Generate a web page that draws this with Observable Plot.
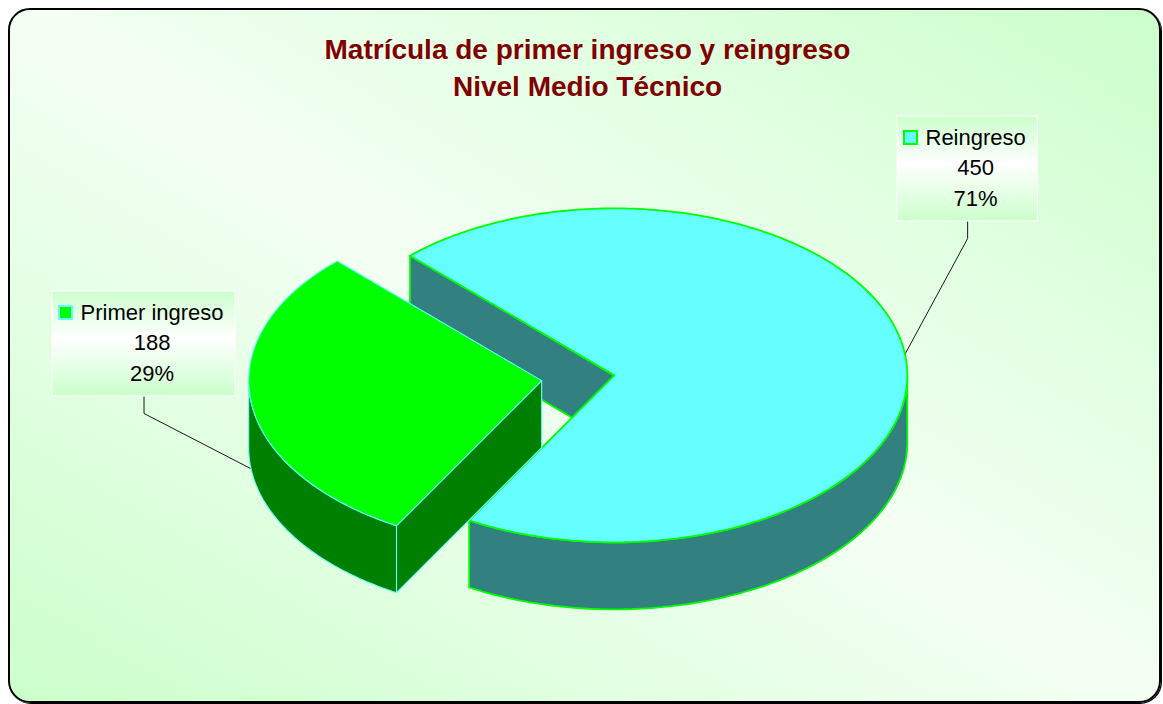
<!DOCTYPE html>
<html><head><meta charset="utf-8">
<script src="https://cdn.jsdelivr.net/npm/d3@7"></script>
<script src="https://cdn.jsdelivr.net/npm/@observablehq/plot@0.6"></script>
<style>
html,body{margin:0;padding:0;background:#fff;width:1163px;height:704px;overflow:hidden;}
#frame{position:absolute;left:8px;top:8px;width:1153px;height:695px;box-sizing:border-box;border:2px solid #000;border-radius:22px;
 background:linear-gradient(to top right,#ccffcc 0%,#f4fff4 50%,#ccffcc 100%);box-shadow:1px 1px 0 #000;}
#chart{position:absolute;left:0;top:0;}
</style></head><body>
<div id="frame"></div><div id="chart"></div>
<script>
// ---- data ----
const categories = ["Primer ingreso", "Reingreso"];
const values = [188, 450];
const titleLines = ["Matrícula de primer ingreso y reingreso", "Nivel Medio Técnico"];
const topColors = ["#00ff00", "#66ffff"];
const sideColors = ["#008000", "#338080"];
const edgeColors = ["#66ffff", "#00ff00"];

// ---- layout ----
const W = 1163, H = 704;
const L = {cx: 577.5, cy: 377.5, rx: 293, ry: 167, depth: 67, explode: 0.125, startDeg: 119.7};
const FONT = "'Liberation Sans', Arial, sans-serif";
const labelBox = {"Primer ingreso": [52, 291], "Reingreso": [897, 116]};
const labelAnchorZ = {"Primer ingreso": 1, "Reingreso": 0};

const total = d3.sum(values);
const data = categories.map((c, i) => ({category: c, value: values[i], top: topColors[i], side: sideColors[i], edge: edgeColors[i]}));
const rad = Math.PI / 180;
const pie = d3.pie().sort(null).value(d => d.value)
  .startAngle((L.startDeg + 90) * rad).endAngle((L.startDeg + 450) * rad);
const arcs = pie(data).map(a => {
  const t0 = a.startAngle - Math.PI / 2, t1 = a.endAngle - Math.PI / 2, tm = (t0 + t1) / 2;
  const c = {x: L.cx + L.explode * L.rx * Math.cos(tm), y: L.cy + L.explode * L.ry * Math.sin(tm)};
  return {...a, t0, t1, tm, c};
});
const pt = (c, t, z = 0) => ({x: c.x + L.rx * Math.cos(t), y: c.y + L.ry * Math.sin(t) + z});
function arcPts(c, t0, t1, z = 0) {
  const n = Math.max(2, Math.ceil(Math.abs(t1 - t0) / rad));
  return d3.range(n + 1).map(k => pt(c, t0 + (t1 - t0) * k / n, z));
}
const close = p => [...p, p[0]];

const marks = [];
const poly = (pts, fill, stroke, sw) => marks.push(Plot.line(close(pts), {x: "x", y: "y", fill, stroke, strokeWidth: sw, strokeLinejoin: "round"}));

for (const a of [...arcs].sort((p, q) => p.c.y - q.c.y)) {
  const d = a.data, c = a.c, D = L.depth;
  const sw = d.category === "Reingreso" ? 1.8 : 1.1;
  // radial faces
  const face = t => [c, pt(c, t), pt(c, t, D), {x: c.x, y: c.y + D}];
  if (Math.cos(a.t0) < 0) poly(face(a.t0), d.side, d.edge, sw);
  if (Math.cos(a.t1) > 0) poly(face(a.t1), d.side, d.edge, sw);
  // curved outer side (front half)
  for (const k of [0, 1, 2]) {
    const s = Math.max(a.t0, k * 2 * Math.PI), e = Math.min(a.t1, k * 2 * Math.PI + Math.PI);
    if (e > s) poly([...arcPts(c, s, e), ...arcPts(c, e, s, D)], d.side, d.edge, sw);
  }
  // top
  poly([c, ...arcPts(c, a.t0, a.t1)], d.top, d.edge, sw);
}

// ---- labels ----
const ctx = document.createElement("canvas").getContext("2d");
ctx.font = "22px " + FONT;
const labelRows = [], boxRows = [], keyRows = [];
for (const a of arcs) {
  const d = a.data, [bx, by] = labelBox[d.category];
  const tw = ctx.measureText(d.category).width;
  const bw = tw + 40, bh = 105;
  boxRows.push({x1: bx, x2: bx + bw, y1: by, y2: by + bh});
  keyRows.push({x1: bx + 7, x2: bx + 20, y1: by + 15, y2: by + 28, fill: d.top, stroke: d.edge});
  labelRows.push({x: bx + 28, y: by + 28, text: d.category, anchor: "start"});
  const cxT = bx + 28 + tw / 2;
  labelRows.push({x: cxT, y: by + 58.5, text: String(d.value), anchor: "middle"});
  labelRows.push({x: cxT, y: by + 89, text: Math.round(d.value / total * 100) + "%", anchor: "middle"});
  const anc = pt(a.c, a.tm, labelAnchorZ[d.category] * L.depth);
  const lx = bx + bw / 2;
  marks.unshift(Plot.line([{x: lx, y: by + bh}, {x: lx, y: by + bh + 17}, anc], {x: "x", y: "y", stroke: "#000", strokeWidth: 0.9}));
}
marks.push(Plot.rect(boxRows, {x1: "x1", x2: "x2", y1: "y1", y2: "y2", fill: "url(#boxgrad)", stroke: "#ffffff", strokeWidth: 1}));
for (const k of keyRows) marks.push(Plot.rect([k], {x1: "x1", x2: "x2", y1: "y1", y2: "y2", fill: k.fill, stroke: k.stroke, strokeWidth: 2}));
for (const anchor of ["start", "middle"])
  marks.push(Plot.text(labelRows.filter(r => r.anchor === anchor), {x: "x", y: "y", text: "text", textAnchor: anchor, lineAnchor: "bottom",
    fontSize: 22, fontFamily: FONT, fill: "#000"}));

// ---- title ----
marks.push(Plot.text(titleLines.map((t, i) => ({t, x: 587, y: 58 + i * 37})), {x: "x", y: "y", text: "t", lineAnchor: "bottom",
  fontSize: 28, fontWeight: "bold", fontFamily: FONT, fill: "#800000"}));

const svg = Plot.plot({
  width: W, height: H, margin: 0,
  x: {domain: [0, W], range: [0, W], axis: null},
  y: {domain: [0, H], range: [0, H], axis: null},
  style: {background: "transparent", overflow: "visible"},
  marks
});
const defs = d3.select(svg).insert("defs", ":first-child");
const g = defs.append("linearGradient").attr("id", "boxgrad").attr("x1", 0).attr("y1", 0).attr("x2", 0).attr("y2", 1);
g.append("stop").attr("offset", "0%").attr("stop-color", "#ccffcc");
g.append("stop").attr("offset", "45%").attr("stop-color", "#ffffff");
g.append("stop").attr("offset", "100%").attr("stop-color", "#ccffcc");
document.getElementById("chart").appendChild(svg);
</script>
</body></html>
